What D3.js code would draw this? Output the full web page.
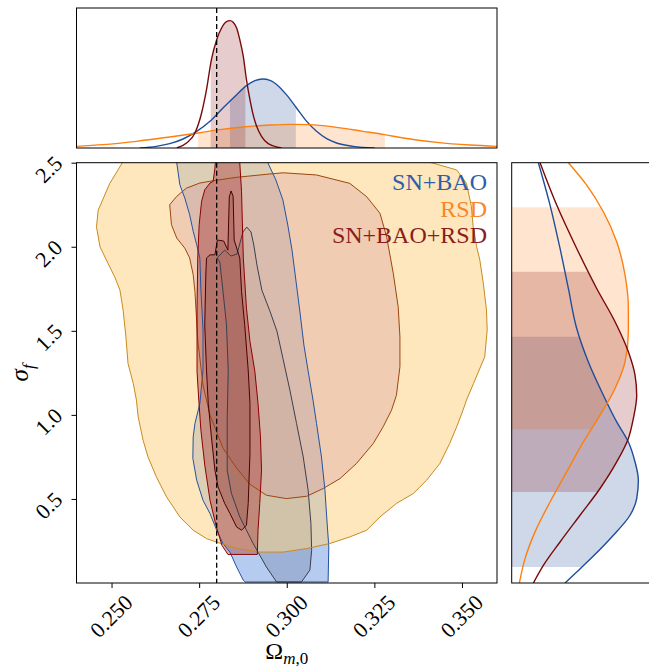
<!DOCTYPE html>
<html><head><meta charset="utf-8">
<script src="https://cdn.jsdelivr.net/npm/d3@7"></script>
<style>
body{margin:0;background:#fff}
svg{display:block}
text{font-family:"Liberation Serif","DejaVu Serif",serif}
</style>
</head><body>
<svg id="chart" width="649" height="668"></svg>
<script>
// ---------------- data ----------------
const seriesNames = ["SN+BAO", "RSD", "SN+BAO+RSD"];
const xTicks = [0.25, 0.275, 0.3, 0.325, 0.35];
const xTickLabels = ["0.250", "0.275", "0.300", "0.325", "0.350"];
const yTicks = [0.5, 1.0, 1.5, 2.0, 2.5];
const yTickLabels = ["0.5", "1.0", "1.5", "2.0", "2.5"];
const truthOmega = 0.28;

// 2D credible contours: [Omega_m0, sigma_f]
const rsdOuter = [[0.2531,2.6],[0.2531,2.5],[0.2495,2.377],[0.2462,2.218],[0.2457,2.119],[0.2467,2.0],[0.2490,1.901],[0.2509,1.821],[0.2524,1.742],[0.2533,1.623],[0.2541,1.464],[0.2547,1.306],[0.2562,1.187],[0.2571,1.088],[0.2576,0.988],[0.2590,0.849],[0.2604,0.750],[0.2628,0.631],[0.2657,0.512],[0.2695,0.393],[0.2733,0.314],[0.2771,0.264],[0.2800,0.243],[0.2857,0.205],[0.2923,0.184],[0.2990,0.184],[0.3057,0.205],[0.3123,0.235],[0.3180,0.274],[0.3228,0.314],[0.3266,0.393],[0.3313,0.473],[0.3361,0.532],[0.3399,0.611],[0.3437,0.711],[0.3465,0.830],[0.3485,0.929],[0.3503,1.028],[0.3513,1.088],[0.3533,1.187],[0.3565,1.345],[0.3572,1.504],[0.3570,1.623],[0.3561,1.782],[0.3551,1.921],[0.3542,2.0],[0.3532,2.119],[0.3527,2.238],[0.3513,2.377],[0.3485,2.457],[0.3413,2.5],[0.335,2.6]];
const rsdInner = [[0.2686,2.300],[0.2714,2.349],[0.2752,2.379],[0.2790,2.393],[0.2857,2.413],[0.2952,2.433],[0.2990,2.440],[0.3085,2.427],[0.3180,2.377],[0.3228,2.298],[0.3266,2.199],[0.3285,2.060],[0.3304,1.842],[0.3318,1.643],[0.3323,1.464],[0.3323,1.286],[0.3313,1.117],[0.3299,1.028],[0.3275,0.929],[0.3247,0.830],[0.3199,0.711],[0.3152,0.621],[0.3104,0.562],[0.3057,0.516],[0.2999,0.502],[0.2942,0.522],[0.2895,0.587],[0.2857,0.683],[0.2818,0.802],[0.2781,0.998],[0.2761,1.177],[0.2746,1.445],[0.2738,1.734],[0.2733,1.833],[0.2723,1.933],[0.2709,1.992],[0.2686,2.052],[0.2671,2.131],[0.2666,2.250]];
const snbaoOuter = [[0.2686,2.6],[0.2686,2.5],[0.2695,2.369],[0.2709,2.290],[0.2723,2.190],[0.2733,2.092],[0.2743,2.012],[0.2752,1.933],[0.2755,1.742],[0.2761,1.504],[0.2761,1.266],[0.2752,1.068],[0.2738,0.949],[0.2733,0.869],[0.2732,0.742],[0.2743,0.611],[0.2761,0.492],[0.2781,0.413],[0.2800,0.314],[0.2818,0.235],[0.2838,0.183],[0.2857,0.095],[0.2876,0.016],[0.2882,0.006],[0.3118,0.006],[0.3120,0.214],[0.3114,0.393],[0.3109,0.552],[0.3099,0.750],[0.3085,0.949],[0.3075,1.088],[0.3063,1.236],[0.3049,1.415],[0.3037,1.623],[0.3026,1.802],[0.3015,1.980],[0.3003,2.129],[0.2989,2.278],[0.2969,2.397],[0.2946,2.5],[0.2935,2.6]];
const snbaoInner = [[0.2801,1.933],[0.2823,1.980],[0.2841,1.945],[0.2858,1.957],[0.2875,2.088],[0.2886,2.117],[0.2898,2.088],[0.2906,2.010],[0.2915,1.891],[0.2929,1.742],[0.2952,1.617],[0.2972,1.498],[0.2989,1.337],[0.3009,1.147],[0.3028,0.949],[0.3047,0.750],[0.3061,0.552],[0.3069,0.354],[0.3071,0.194],[0.3066,0.077],[0.3042,0.006],[0.2971,0.006],[0.2942,0.095],[0.2904,0.235],[0.2866,0.393],[0.2842,0.534],[0.2830,0.671],[0.2830,0.968],[0.2833,1.266],[0.2828,1.536],[0.2818,1.736],[0.2809,1.909]];
const jointOuter = [[0.2800,2.6],[0.2795,2.468],[0.2790,2.389],[0.2781,2.379],[0.2766,2.339],[0.2757,2.270],[0.2750,2.131],[0.2746,1.933],[0.2744,1.635],[0.2744,1.258],[0.2749,1.088],[0.2755,0.909],[0.2766,0.701],[0.2781,0.492],[0.2798,0.343],[0.2815,0.224],[0.2832,0.170],[0.2916,0.170],[0.2918,0.313],[0.2923,0.473],[0.2928,0.671],[0.2925,0.869],[0.2918,1.068],[0.2909,1.258],[0.2895,1.437],[0.2885,1.635],[0.2876,1.933],[0.2871,2.330],[0.2866,2.498],[0.2866,2.6]];
const jointInner = [[0.2771,1.933],[0.2781,1.952],[0.2795,1.952],[0.2802,2.040],[0.2820,2.034],[0.2832,1.980],[0.2836,2.296],[0.2841,2.332],[0.2847,2.300],[0.2850,2.040],[0.2866,1.933],[0.2871,1.735],[0.2880,1.536],[0.2890,1.266],[0.2895,1.068],[0.2895,0.770],[0.2890,0.473],[0.2885,0.343],[0.2871,0.314],[0.2857,0.333],[0.2838,0.413],[0.2823,0.473],[0.2804,0.571],[0.2795,0.671],[0.2785,0.869],[0.2776,1.068],[0.2771,1.266],[0.2766,1.536],[0.2769,1.832]];

// 1D marginal densities of Omega_m0: [Omega_m0, density]
const snbaoOmega = [[0.2581,0],[0.2628,1.0],[0.2666,2.6],[0.2704,5.4],[0.2743,10],[0.2781,16],[0.2818,24],[0.2857,32],[0.2885,37.4],[0.2909,40.4],[0.2931,41.4],[0.2952,40.6],[0.2975,37.4],[0.2999,32],[0.3028,24],[0.3057,16],[0.3085,10],[0.3114,5.6],[0.3142,3.0],[0.3190,1.0],[0.3251,0]];
const rsdOmega = [[0.2399,1.0],[0.2476,2.0],[0.2571,4.0],[0.2666,6.6],[0.2747,9.0],[0.2809,11],[0.2876,12.6],[0.2952,13.8],[0.3009,14.2],[0.3066,14.0],[0.3142,12.4],[0.3218,10],[0.3280,8.0],[0.3332,6.0],[0.3428,3.4],[0.3523,1.8],[0.3600,1.0]];
const jointOmega = [[0.2686,0],[0.2714,3.0],[0.2738,9.0],[0.2757,21],[0.2771,35],[0.2785,53],[0.2800,65],[0.2814,72],[0.2828,75.8],[0.2838,76.4],[0.2847,75.4],[0.2857,72],[0.2866,65],[0.2876,55],[0.2885,41],[0.2895,29],[0.2904,20],[0.2914,13],[0.2928,7],[0.2947,2.6],[0.2985,0]];
// 1D marginal densities of sigma_f: [sigma_f, density]
const snbaoSigma = [[2.5,0.160],[2.248,0.230],[1.990,0.290],[1.752,0.340],[1.514,0.390],[1.315,0.460],[1.117,0.550],[0.958,0.630],[0.839,0.700],[0.720,0.740],[0.611,0.760],[0.502,0.750],[0.403,0.710],[0.284,0.610],[0.160,0.490],[0.065,0.390],[0.0,0.320]];
const rsdSigma = [[2.5,0.340],[2.367,0.450],[2.208,0.550],[2.030,0.630],[1.832,0.680],[1.633,0.700],[1.494,0.700],[1.315,0.680],[1.157,0.620],[0.998,0.530],[0.839,0.430],[0.661,0.330],[0.482,0.230],[0.304,0.140],[0.145,0.080],[0.0,0.046]];
const jointSigma = [[2.5,0.170],[2.248,0.270],[1.990,0.390],[1.752,0.510],[1.554,0.620],[1.375,0.700],[1.236,0.740],[1.117,0.750],[0.979,0.730],[0.860,0.700],[0.720,0.630],[0.562,0.530],[0.403,0.410],[0.244,0.290],[0.105,0.190],[0.0,0.130]];
// 68% credible intervals [low, high]
const omegaIntervals = [[0.2838,0.3026],[0.2747,0.3280],[0.2783,0.2882]];
const sigmaIntervals = [[0.095,1.464],[0.915,2.235],[0.542,1.851]];

// ---------------- layout ----------------
const svg = d3.select("#chart");
const L = 76.5, R = 497, T = 162.7, B = 583;
const topT = 8, topB = 148;
const rL = 511.7, rR = 651.7;

const x = d3.scaleLinear().domain([0.24, 0.36]).range([L, R]);
const y = d3.scaleLinear().domain([0, 2.5]).range([B, T]);
const yTop = d3.scaleLinear().domain([0, 84]).range([topB, topT]);
const xRight = d3.scaleLinear().domain([0, 0.84]).range([rL, rR]);

const styles = [
  { line: "#1f4e9a", text: "#2d5ea8", band: "rgba(31,78,154,0.22)",
    outerFill: "rgba(90,140,220,0.45)", innerFill: "rgba(60,75,110,0.2)",
    outerStroke: "#24529e", innerStroke: "#3a3f4f" },
  { line: "#ff7f0e", text: "#f8862a", band: "rgba(255,127,14,0.2)",
    outerFill: "rgba(253,210,135,0.55)", innerFill: "rgba(210,150,160,0.32)",
    outerStroke: "#c98a1e", innerStroke: "#9a470f" },
  { line: "#7a0a0a", text: "#8a1c1c", band: "rgba(128,0,0,0.2)",
    outerFill: "rgba(165,50,50,0.4)", innerFill: "rgba(100,25,25,0.18)",
    outerStroke: "#8b0000", innerStroke: "#4a0000" }
];

const defs = svg.append("defs");
defs.append("clipPath").attr("id", "clipMain").append("rect")
  .attr("x", L).attr("y", T).attr("width", R - L).attr("height", B - T);
defs.append("clipPath").attr("id", "clipTop").append("rect")
  .attr("x", L).attr("y", topT).attr("width", R - L).attr("height", topB - topT);
defs.append("clipPath").attr("id", "clipRight").append("rect")
  .attr("x", rL).attr("y", T).attr("width", rR - rL).attr("height", B - T);
omegaIntervals.forEach((iv, i) => {
  defs.append("clipPath").attr("id", "ivTop" + i).append("rect")
    .attr("x", x(iv[0])).attr("y", topT).attr("width", x(iv[1]) - x(iv[0])).attr("height", topB - topT);
});
sigmaIntervals.forEach((iv, i) => {
  defs.append("clipPath").attr("id", "ivRight" + i).append("rect")
    .attr("x", rL).attr("y", y(iv[1])).attr("width", rR - rL).attr("height", y(iv[0]) - y(iv[1]));
});

// ---------------- main 2D panel ----------------
const contourSets = [[snbaoOuter, snbaoInner], [rsdOuter, rsdInner], [jointOuter, jointInner]];
const drawOrder = [0, 1, 2];
const cLine = d3.line().x(d => x(d[0])).y(d => y(d[1])).curve(d3.curveLinearClosed);
const gMain = svg.append("g").attr("clip-path", "url(#clipMain)");
drawOrder.forEach(i => {
  const [outer, inner] = contourSets[i];
  const st = styles[i];
  gMain.append("path").attr("d", cLine(outer)).attr("fill", st.outerFill).attr("stroke", "none");
  gMain.append("path").attr("d", cLine(inner)).attr("fill", st.innerFill).attr("stroke", "none");
});
drawOrder.forEach(i => {
  const [outer, inner] = contourSets[i];
  const st = styles[i];
  gMain.append("path").attr("d", cLine(outer)).attr("fill", "none").attr("stroke", st.outerStroke).attr("stroke-width", 1);
  gMain.append("path").attr("d", cLine(inner)).attr("fill", "none").attr("stroke", st.innerStroke).attr("stroke-width", 1);
});

// axes
const tickFont = "22px";
const xAxis = d3.axisBottom(x).tickValues(xTicks).tickFormat((d, i) => xTickLabels[i]).tickSize(5).tickSizeOuter(0);
const gx = svg.append("g").attr("transform", `translate(0,${B})`).call(xAxis);
gx.select(".domain").remove();
gx.selectAll("line").attr("stroke", "#000");
gx.selectAll("text").attr("y", 0).attr("dy", "0.35em").attr("text-anchor", "middle")
  .attr("transform", "translate(-1,33) rotate(-45)")
  .style("font-size", tickFont).style("font-family", "'Liberation Serif',serif").attr("fill", "#000");

const yAxis = d3.axisLeft(y).tickValues(yTicks).tickFormat((d, i) => yTickLabels[i]).tickSize(5).tickSizeOuter(0);
const gy = svg.append("g").attr("transform", `translate(${L},0)`).call(yAxis);
gy.select(".domain").remove();
gy.selectAll("line").attr("stroke", "#000");
gy.selectAll("text").attr("x", 0).attr("dy", "0.35em").attr("text-anchor", "middle")
  .attr("transform", "translate(-28,6) rotate(-45)")
  .style("font-size", tickFont).style("font-family", "'Liberation Serif',serif").attr("fill", "#000");

svg.append("rect").attr("x", L).attr("y", T).attr("width", R - L).attr("height", B - T)
  .attr("fill", "none").attr("stroke", "#000").attr("stroke-width", 1);

// axis labels
const xl = svg.append("text").attr("x", (L + R) / 2).attr("y", 659).attr("text-anchor", "middle")
  .style("font-size", "24px");
xl.append("tspan").text("Ω");
xl.append("tspan").attr("dy", 5).style("font-size", "17px").style("font-style", "italic").text("m");
xl.append("tspan").style("font-size", "17px").text(",0");

const yl = svg.append("text").attr("transform", `translate(28,${(T + B) / 2}) rotate(-90)`)
  .attr("text-anchor", "middle").style("font-size", "25px");
yl.append("tspan").style("font-style", "italic").text("σ");
yl.append("tspan").attr("dy", 6).style("font-size", "17px").style("font-style", "italic").text("f");

// legend
seriesNames.forEach((name, i) => {
  svg.append("text").attr("x", 487).attr("y", 190 + i * 26.5).attr("text-anchor", "end")
    .style("font-size", "24px").attr("fill", styles[i].text).text(name);
});

// ---------------- top marginal ----------------
const omegaSets = [snbaoOmega, rsdOmega, jointOmega];
const topArea = d3.area().x(d => x(d[0])).y0(yTop(0)).y1(d => yTop(d[1])).curve(d3.curveMonotoneX);
const topLine = d3.line().x(d => x(d[0])).y(d => yTop(d[1])).curve(d3.curveMonotoneX);
const gTop = svg.append("g").attr("clip-path", "url(#clipTop)");
omegaSets.forEach((s, i) => {
  gTop.append("g").attr("clip-path", `url(#ivTop${i})`)
    .append("path").attr("d", topArea(s)).attr("fill", styles[i].band);
});
omegaSets.forEach((s, i) => {
  gTop.append("path").attr("d", topLine(s)).attr("fill", "none").attr("stroke", styles[i].line).attr("stroke-width", 1.4);
});
svg.append("rect").attr("x", L).attr("y", topT).attr("width", R - L).attr("height", topB - topT)
  .attr("fill", "none").attr("stroke", "#000").attr("stroke-width", 1);

// ---------------- right marginal ----------------
const sigmaSets = [snbaoSigma, rsdSigma, jointSigma];
const rArea = d3.area().y(d => y(d[0])).x0(xRight(0)).x1(d => xRight(d[1])).curve(d3.curveMonotoneY);
const rLine = d3.line().y(d => y(d[0])).x(d => xRight(d[1])).curve(d3.curveMonotoneY);
const gRight = svg.append("g").attr("clip-path", "url(#clipRight)");
sigmaSets.forEach((s, i) => {
  gRight.append("g").attr("clip-path", `url(#ivRight${i})`)
    .append("path").attr("d", rArea(s)).attr("fill", styles[i].band);
});
sigmaSets.forEach((s, i) => {
  gRight.append("path").attr("d", rLine(s)).attr("fill", "none").attr("stroke", styles[i].line).attr("stroke-width", 1.4);
});
svg.append("rect").attr("x", rL).attr("y", T).attr("width", rR - rL).attr("height", B - T)
  .attr("fill", "none").attr("stroke", "#000").attr("stroke-width", 1);

// ---------------- truth line ----------------
[[topT, topB], [T, B]].forEach(([a, b]) => {
  svg.append("line").attr("x1", x(truthOmega)).attr("x2", x(truthOmega)).attr("y1", a).attr("y2", b)
    .attr("stroke", "#000").attr("stroke-width", 1.3).attr("stroke-dasharray", "5,3");
});
</script>
</body></html>
